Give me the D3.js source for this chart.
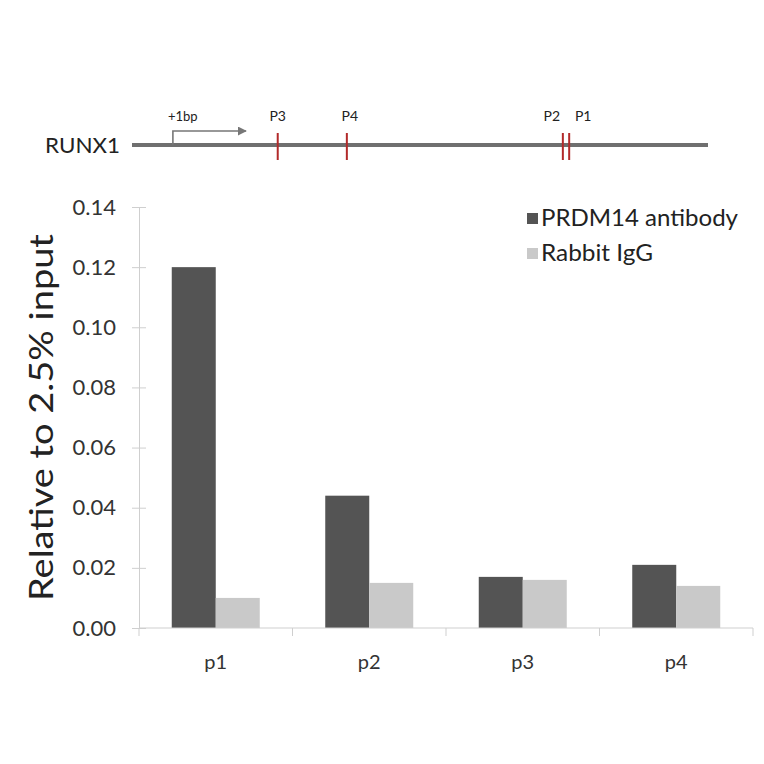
<!DOCTYPE html>
<html>
<head>
<meta charset="utf-8">
<script src="https://cdn.jsdelivr.net/npm/d3@7"></script>
<style>
  body { margin: 0; background: #fff; }
  svg { font-family: Lato, "Open Sans", sans-serif; }
</style>
</head>
<body>
<svg id="chart" width="764" height="764"></svg>
<script>
const categories = ["p1", "p2", "p3", "p4"];
const seriesNames = ["PRDM14 antibody", "Rabbit IgG"];
const prdm14 = [0.120, 0.044, 0.017, 0.021];
const rabbitIgG = [0.010, 0.015, 0.016, 0.014];
const yTicks = [0, 0.02, 0.04, 0.06, 0.08, 0.10, 0.12, 0.14];

// gene map: positions along the RUNX1 line (0 = line start, 1 = line end)
const geneStart = 0.071; // +1bp
const primers = [
  { name: "P3", pos: 0.253, dx: 0 },
  { name: "P4", pos: 0.373, dx: 3 },
  { name: "P2", pos: 0.748, dx: -11 },
  { name: "P1", pos: 0.759, dx: 14 }
];

const colors = ["#545454", "#c9c9c9"];
const svg = d3.select("#chart");

// ---- gene diagram
const gx = d3.scaleLinear().domain([0, 1]).range([132, 708]);
const gy = 145;
const gene = svg.append("g");
gene.append("line")
  .attr("x1", gx(0)).attr("x2", gx(1))
  .attr("y1", gy).attr("y2", gy)
  .attr("stroke", "#6f6f6f").attr("stroke-width", 4);
gene.append("text")
  .attr("x", 45).attr("y", gy + 8)
  .attr("font-size", 21).attr("fill", "#222")
  .attr("textLength", 75).attr("lengthAdjust", "spacingAndGlyphs")
  .text("RUNX1");

svg.append("defs").append("marker")
  .attr("id", "arrow")
  .attr("viewBox", "0 0 10 10")
  .attr("refX", 9).attr("refY", 5)
  .attr("markerWidth", 9).attr("markerHeight", 9)
  .attr("markerUnits", "userSpaceOnUse")
  .attr("orient", "auto")
  .append("path").attr("d", "M0,0 L10,5 L0,10 Z").attr("fill", "#777");

gene.append("path")
  .attr("d", `M${gx(geneStart)},${gy} V131 H246`)
  .attr("fill", "none").attr("stroke", "#777").attr("stroke-width", 1.6)
  .attr("marker-end", "url(#arrow)");
gene.append("text")
  .attr("x", gx(geneStart) - 5).attr("y", 121)
  .attr("font-size", 13).attr("fill", "#222")
  .text("+1bp");

primers.forEach((p) => {
  gene.append("line")
    .attr("x1", gx(p.pos)).attr("x2", gx(p.pos))
    .attr("y1", 133).attr("y2", 160)
    .attr("stroke", "#b22a2a").attr("stroke-width", 2);
  gene.append("text")
    .attr("x", gx(p.pos) + p.dx).attr("y", 121)
    .attr("text-anchor", "middle")
    .attr("font-size", 14).attr("fill", "#222")
    .text(p.name);
});

// ---- bar chart
const mLeft = 139, mRight = 753, mTop = 207, mBottom = 628;
const x = d3.scaleBand().domain(categories).range([mLeft, mRight]);
const y = d3.scaleLinear().domain([0, 0.14]).range([mBottom, mTop]);
const inner = d3.scaleBand().domain(seriesNames).range([0, 88]);
const off = (x.bandwidth() - 88) / 2;

const data = categories.map((c, i) => ({ cat: c, vals: [prdm14[i], rabbitIgG[i]] }));

svg.append("g")
  .selectAll("g")
  .data(data)
  .join("g")
  .attr("transform", (d) => `translate(${x(d.cat) + off},0)`)
  .selectAll("rect")
  .data((d) => d.vals.map((v, k) => ({ v: v, k: k })))
  .join("rect")
  .attr("x", (d) => inner(seriesNames[d.k]))
  .attr("width", inner.bandwidth())
  .attr("y", (d) => y(d.v))
  .attr("height", (d) => y(0) - y(d.v))
  .attr("fill", (d) => colors[d.k]);

// y axis
const yAxis = svg.append("g")
  .attr("transform", `translate(${mLeft},0)`)
  .call(d3.axisLeft(y).tickValues(yTicks).tickFormat(d3.format(".2f")).tickSize(0).tickPadding(23));
yAxis.select(".domain").attr("stroke", "#cfcfcf");
yAxis.selectAll("text").attr("font-size", 22).attr("fill", "#333")
  .attr("font-family", "Lato, sans-serif");
yAxis.selectAll(".tick").append("line")
  .attr("x1", -7).attr("x2", 7)
  .attr("stroke", "#cfcfcf");

// x axis
const xAxis = svg.append("g").attr("transform", `translate(0,${mBottom})`);
xAxis.append("line")
  .attr("x1", mLeft).attr("x2", mRight)
  .attr("stroke", "#cfcfcf");
xAxis.selectAll(".sep")
  .data(categories.concat(["end"]))
  .join("line")
  .attr("class", "sep")
  .attr("x1", (d, i) => mLeft + i * x.bandwidth())
  .attr("x2", (d, i) => mLeft + i * x.bandwidth())
  .attr("y1", 0).attr("y2", 8)
  .attr("stroke", "#cfcfcf");
xAxis.selectAll(".lab")
  .data(categories)
  .join("text")
  .attr("class", "lab")
  .attr("x", (d) => x(d) + x.bandwidth() / 2)
  .attr("y", 41)
  .attr("text-anchor", "middle")
  .attr("font-size", 20).attr("fill", "#333")
  .text((d) => d);

// y label
svg.append("text")
  .attr("transform", `translate(53,${(mTop + mBottom) / 2}) rotate(-90)`)
  .attr("text-anchor", "middle")
  .attr("font-size", 33).attr("fill", "#222")
  .attr("textLength", 367).attr("lengthAdjust", "spacingAndGlyphs")
  .text("Relative to 2.5% input");

// legend
const legendLen = [197, 112];
const legend = svg.append("g").attr("transform", "translate(527,207)");
seriesNames.forEach((s, i) => {
  legend.append("rect")
    .attr("x", 0).attr("y", i * 35 + 6)
    .attr("width", 11).attr("height", 11)
    .attr("fill", colors[i]);
  legend.append("text")
    .attr("x", 14).attr("y", i * 35 + 19)
    .attr("font-size", 23).attr("fill", "#222")
    .attr("textLength", legendLen[i]).attr("lengthAdjust", "spacingAndGlyphs")
    .text(s);
});
</script>
</body>
</html>
